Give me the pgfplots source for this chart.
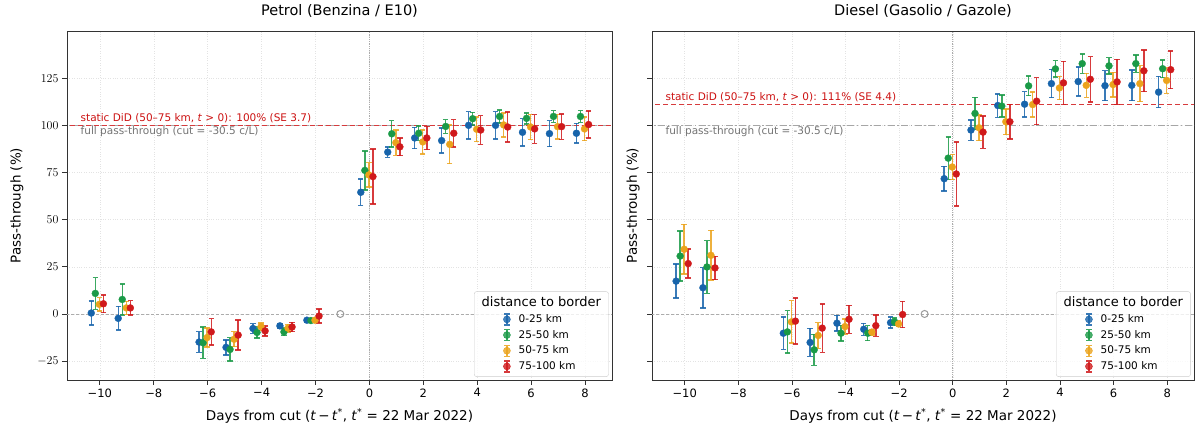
\documentclass[border=0pt]{standalone}
\usepackage{pgfplots}
\pgfplotsset{compat=1.18}
\usepackage{pgfplotstable}
\usepackage{fontspec}
\setmainfont{DejaVu Sans}

\definecolor{cB}{HTML}{1764AB}
\definecolor{cG}{HTML}{1A9A47}
\definecolor{cO}{HTML}{EBA31C}
\definecolor{cR}{HTML}{D0191B}
\definecolor{cTxt}{HTML}{CC1111}

% columns: day, blue(0-25) y/err, green(25-50), orange(50-75), red(75-100)
\pgfplotstableread{
d   b     be    g     ge    o     oe    r     re
-10 0.5   6.4   10.9  8.4   5.1   3.5   5.4   4.7
-9  -2.3  6.3   7.7   8.2   3.2   3.5   3.2   3.8
-6  -14.9 5.5   -15.3 8.3   -12.5 5.0   -9.5  7.0
-5  -17.7 4.0   -18.8 6.2   -13.4 4.0   -11.2 8.0
-4  -7.7  2.5   -9.8  3.0   -6.7  2.0   -9.0  2.6
-3  -6.3  1.2   -9.5  2.0   -7.5  2.0   -6.9  2.5
-2  -3.3  1.0   -3.5  1.0   -3.3  1.0   -1.1  3.7
0   64.5  7.0   76.1  10.3  73.7  6.5   72.8  14.6
1   85.8  2.8   95.5  7.0   90.8  6.7   88.6  4.7
2   93.3  5.7   95.8  3.8   91.2  6.3   93.3  6.2
3   91.9  6.6   99.4  3.6   89.9  10.2  95.8  7.2
4   100.0 7.3   103.5 3.3   97.9  6.5   97.5  7.6
5   100.0 7.3   104.7 3.4   100.2 6.3   99.1  7.9
6   96.3  7.3   103.7 2.9   99.1  6.7   98.1  7.6
7   95.6  6.9   104.7 3.1   99.3  6.5   99.3  6.7
8   95.8  5.2   104.7 3.1   98.1  6.3   100.4 7.1
}\petrol

\pgfplotstableread{
d   b     be    g     ge    o     oe    r     re
-10 17.4  9.0   30.7  13.2  34.3  13.2  26.7  7.7
-9  13.9  10.7  24.9  14.0  31.1  13.2  24.4  6.2
-6  -10.2 8.6   -9.5  11.2  -4.2  11.2  -3.8  12.2
-5  -15.1 7.4   -19.0 8.2   -11.4 6.8   -7.5  12.8
-4  -4.9  4.2   -10.2 4.2   -6.7  4.1   -2.8  7.4
-3  -8.1  3.2   -10.2 4.0   -9.6  1.5   -6.2  5.6
-2  -4.6  2.9   -4.2  2.0   -5.3  1.5   -0.3  7.0
0   71.7  6.6   82.6  11.3  77.9  6.6   74.2  17.0
1   97.5  5.4   106.3 8.5   98.7  6.8   96.4  8.6
2   110.5 6.2   110.2 5.8   101.9 6.8   101.9 9.2
3   111.2 6.7   120.9 5.2   111.0 6.6   112.8 12.4
4   122.1 7.5   129.9 4.3   119.8 6.2   122.5 11.4
5   123.2 7.7   132.7 5.2   121.2 6.3   124.4 12.0
6   121.0 7.9   131.5 4.4   121.6 6.5   123.0 12.0
7   121.2 8.2   132.7 4.6   122.1 9.5   128.9 11.0
8   117.6 8.3   130.0 4.7   123.8 6.8   129.5 10.0
}\diesel

\pgfplotsset{
  panel/.style={
    scale only axis, width=545pt, height=349pt,
    anchor=south west,
    xmin=-11.22, xmax=9.0, ymin=-35, ymax=150,
    xtick={-10,-8,...,8},
    xticklabels={−10,−8,−6,−4,−2,0,2,4,6,8},
    ytick={-25,0,25,50,75,100,125},
    tick align=outside, tick pos=left, major tick length=5pt,
    tick style={black!80, line width=0.8pt},
    axis line style={black!80, line width=0.8pt},
    grid=major, grid style={dotted, gray!22, line width=0.5pt},
    tick label style={font=\fontsize{11.5}{13}\selectfont},
    title style={font=\fontsize{14.5}{17}\selectfont, at={(axis description cs:0.5,1)}, anchor=base, yshift=9pt},
    xlabel style={font=\fontsize{13.5}{16}\selectfont, at={(axis description cs:0.5,0)}, anchor=base, yshift=-41pt},
    ylabel style={font=\fontsize{13.5}{16}\selectfont, anchor=center},
    xlabel={Days from cut (\textit{t}\,−\,\textit{t}\textsuperscript{*}, \textit{t}\textsuperscript{*} = 22 Mar 2022)},
    ylabel={Pass-through (\%)},
    legend style={at={(0.994,0.009)}, anchor=south east, draw=gray!40, rounded corners=2.5pt,
      fill=white, fill opacity=0.8, text opacity=1,
      font=\fontsize{10.5}{12}\selectfont, row sep=2.2pt, inner sep=3.5pt},
    legend cell align=left,
  },
  ser/.style={forget plot, only marks, mark=*, mark size=3.5pt, color=#1,
    mark options={draw=#1, fill=#1, line width=0.3pt},
    error bars/.cd, y dir=both, y explicit,
    error bar style={line width=1.4pt, #1, opacity=0.85},
    error mark options={rotate=90, mark size=2.7pt, line width=1.4pt, #1, opacity=0.85}},
  leg/.style={legend image code/.code={
      \pgfinterruptboundingbox
      \draw[#1, line width=1.4pt, opacity=0.85] (29.2pt,-5.5pt) -- (29.2pt,5.5pt)
        (26.5pt,-5.5pt) -- (31.9pt,-5.5pt) (26.5pt,5.5pt) -- (31.9pt,5.5pt);
      \fill[#1] (29.2pt,0pt) circle (3.5pt);
      \endpgfinterruptboundingbox
    }},
  legtitle/.style={legend image code/.code={}},
  zline/.style={forget plot, gray!65, line width=0.7pt, dash pattern=on 3pt off 2pt},
  vline/.style={forget plot, gray!65, line width=0.8pt, densely dotted},
  didline/.style={forget plot, cR!85, line width=1.3pt, dash pattern=on 5pt off 3pt},
  fullline/.style={forget plot, gray!70, line width=1.2pt, dash pattern=on 7pt off 2.5pt on 1.5pt off 2.5pt},
  refpt/.style={forget plot, only marks, mark=o, mark size=3.5pt, gray!80, line width=1pt},
}

\newcommand{\legendrows}{%
  \addlegendimage{legtitle}
  \addlegendentry{\hspace*{2pt}\fontsize{13}{15}\selectfont distance to border\hspace*{2pt}}
  \addlegendimage{leg=cB}\addlegendentry{\hspace*{39pt}0-25 km}
  \addlegendimage{leg=cG}\addlegendentry{\hspace*{39pt}25-50 km}
  \addlegendimage{leg=cO}\addlegendentry{\hspace*{39pt}50-75 km}
  \addlegendimage{leg=cR}\addlegendentry{\hspace*{39pt}75-100 km}
}

\begin{document}
\begin{tikzpicture}
\useasboundingbox (0,0) rectangle (1195pt,427pt);

% ---------------- Petrol ----------------
\begin{axis}[panel, at={(67pt,47pt)},
  title={Petrol (Benzina / E10)},
  ylabel style={at={(axis description cs:-0.0917,0.5)}}]
  \legendrows
  \addplot[vline] coordinates {(0,-35) (0,150)};
  \addplot[zline] coordinates {(-12,0) (10,0)};
  \addplot[fullline] coordinates {(-12,100) (10,100)};
  \addplot[didline] coordinates {(-12,100) (10,100)};
  \addplot[refpt] coordinates {(-1.08,0)};
  \addplot[ser=cB] table[x expr=\thisrow{d}-0.32, y=b, y error=be] {\petrol};
  \addplot[ser=cG] table[x expr=\thisrow{d}-0.17, y=g, y error=ge] {\petrol};
  \addplot[ser=cO] table[x expr=\thisrow{d}-0.02, y=o, y error=oe] {\petrol};
  \addplot[ser=cR] table[x expr=\thisrow{d}+0.13, y=r, y error=re] {\petrol};
  \node[anchor=west, text=cTxt, font=\fontsize{10.5}{12}\selectfont, inner sep=0pt] at (axis cs:-10.72,103.8)
    {static DiD (50–75 km, \textit{t} > 0): 100\% (SE 3.7)};
  \node[anchor=west, text=gray!90!black, font=\fontsize{10.5}{12}\selectfont, inner sep=0pt] at (axis cs:-10.72,96.5)
    {full pass-through (cut = -30.5 c/L)};
\end{axis}

% ---------------- Diesel ----------------
\begin{axis}[panel, at={(652pt,47pt)}, width=542pt,
  title={Diesel (Gasolio / Gazole)},
  yticklabels={},
  ylabel style={at={(axis description cs:-0.035,0.5)}}]
  \legendrows
  \addplot[vline] coordinates {(0,-35) (0,150)};
  \addplot[zline] coordinates {(-12,0) (10,0)};
  \addplot[fullline] coordinates {(-12,100) (10,100)};
  \addplot[didline] coordinates {(-12,111) (10,111)};
  \addplot[refpt] coordinates {(-1.05,0)};
  \addplot[ser=cB] table[x expr=\thisrow{d}-0.32, y=b, y error=be] {\diesel};
  \addplot[ser=cG] table[x expr=\thisrow{d}-0.17, y=g, y error=ge] {\diesel};
  \addplot[ser=cO] table[x expr=\thisrow{d}-0.02, y=o, y error=oe] {\diesel};
  \addplot[ser=cR] table[x expr=\thisrow{d}+0.13, y=r, y error=re] {\diesel};
  \node[anchor=west, text=cTxt, font=\fontsize{10.5}{12}\selectfont, inner sep=0pt] at (axis cs:-10.72,115)
    {static DiD (50–75 km, \textit{t} > 0): 111\% (SE 4.4)};
  \node[anchor=west, text=gray!90!black, font=\fontsize{10.5}{12}\selectfont, inner sep=0pt] at (axis cs:-10.72,96.5)
    {full pass-through (cut = -30.5 c/L)};
\end{axis}
\end{tikzpicture}
\end{document}
